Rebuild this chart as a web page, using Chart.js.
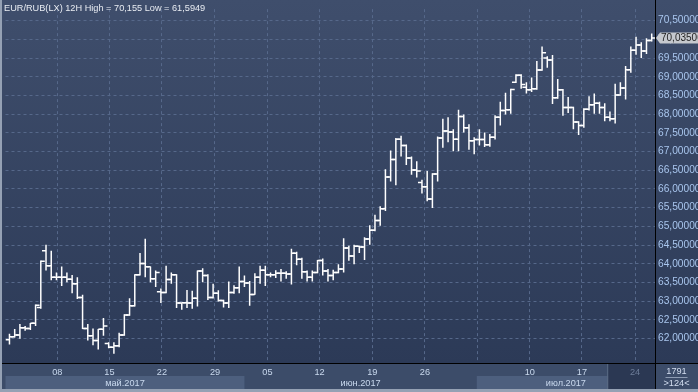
<!DOCTYPE html>
<html>
<head>
<meta charset="utf-8">
<title>EUR/RUB 12H</title>
<script src="https://cdn.jsdelivr.net/npm/chart.js@4.4.1/dist/chart.umd.min.js"></script>
<style>
  html, body { margin: 0; padding: 0; background: #2c3a57; }
  #eurRubChart { display: block; }
</style>
</head>
<body>
<canvas id="eurRubChart" width="698" height="392"></canvas>
<script>
// 12H bars, EUR/RUB, early May .. late July 2017
var opens = [61.97, 62.05, 62.10, 62.29, 62.27, 62.41, 62.83, 64.35, 63.95, 63.64,
    63.64, 63.64, 63.59, 63.47, 63.10, 62.27, 62.08, 61.95, 62.25, 61.87,
    61.77, 61.81, 62.10, 62.63, 62.88, 63.71, 64.01, 63.92, 63.60, 63.25,
    63.23, 63.58, 63.71, 62.95, 62.96, 62.95, 63.08, 63.81, 63.69, 63.10,
    63.21, 63.02, 62.95, 63.23, 63.36, 63.53, 63.49, 63.18, 63.64, 63.83,
    63.71, 63.71, 63.75, 63.75, 63.73, 64.28, 64.12, 63.79, 63.64, 63.77,
    64.09, 63.81, 63.69, 63.77, 63.86, 64.42, 64.21, 64.47, 64.45, 64.66,
    64.90, 65.16, 65.47, 66.32, 66.79, 67.33, 67.16, 66.83, 66.51, 66.17,
    66.06, 65.73, 66.40, 67.36, 67.55, 67.52, 67.33, 67.94, 67.64, 67.29,
    67.32, 67.32, 67.18, 67.38, 67.92, 68.10, 68.12, 68.85, 69.04, 68.72,
    68.65, 68.68, 69.18, 69.50, 69.45, 68.44, 68.65, 68.18, 68.18, 67.79,
    67.70, 68.13, 68.25, 68.29, 68.18, 67.92, 67.88, 68.51, 68.70, 69.19,
    69.71, 69.85, 69.69, 69.97];
var highs = [62.13, 62.26, 62.39, 62.34, 62.42, 62.91, 64.09, 64.51, 64.35, 63.77,
    63.93, 63.77, 63.70, 63.64, 63.17, 62.39, 62.27, 62.26, 62.55, 61.90,
    61.90, 62.16, 62.65, 63.08, 63.72, 64.29, 64.67, 63.93, 63.82, 63.34,
    63.95, 63.77, 63.72, 62.96, 63.30, 63.28, 63.82, 63.88, 63.72, 63.47,
    63.29, 63.04, 63.53, 63.43, 63.93, 63.69, 63.54, 63.75, 63.95, 63.95,
    63.77, 63.83, 63.86, 63.80, 64.40, 64.32, 64.16, 63.82, 63.82, 64.10,
    64.14, 63.86, 63.84, 63.99, 64.68, 64.48, 64.51, 64.48, 64.71, 65.03,
    65.31, 65.54, 66.53, 67.03, 67.36, 67.42, 67.19, 66.87, 66.74, 66.25,
    66.48, 66.42, 67.40, 67.88, 67.92, 67.60, 68.12, 67.99, 67.73, 67.38,
    67.60, 67.51, 67.47, 67.97, 68.33, 68.57, 68.68, 69.07, 69.07, 68.85,
    68.98, 69.42, 69.81, 69.55, 69.58, 68.94, 68.67, 68.46, 68.20, 67.81,
    68.16, 68.48, 68.55, 68.33, 68.29, 68.07, 68.81, 68.85, 69.29, 69.81,
    70.07, 69.92, 70.03, 70.155];
var lows = [61.84, 62.03, 62.00, 62.21, 62.23, 62.34, 62.80, 63.82, 63.56, 63.56,
    63.41, 63.51, 63.21, 63.06, 62.26, 61.95, 61.82, 61.71, 62.08, 61.74,
    61.5949, 61.77, 62.08, 62.61, 62.86, 63.69, 63.64, 63.51, 63.38, 62.95,
    63.21, 63.47, 62.82, 62.77, 62.82, 62.80, 62.86, 63.51, 63.03, 63.07,
    62.99, 62.83, 62.82, 63.20, 63.21, 63.38, 62.88, 63.17, 63.47, 63.41,
    63.64, 63.62, 63.53, 63.60, 63.45, 63.96, 63.60, 63.53, 63.53, 63.75,
    63.69, 63.53, 63.56, 63.75, 63.77, 64.08, 63.99, 64.29, 64.10, 64.51,
    64.87, 65.02, 65.41, 66.20, 66.10, 66.87, 66.64, 66.38, 66.31, 65.88,
    65.67, 65.49, 66.20, 67.10, 67.25, 67.01, 67.01, 67.51, 67.05, 66.93,
    67.16, 67.12, 67.13, 67.32, 67.70, 67.99, 68.01, 68.83, 68.68, 68.55,
    68.59, 68.65, 69.16, 69.24, 68.27, 68.41, 67.96, 68.03, 67.60, 67.44,
    67.64, 68.10, 68.01, 68.01, 67.81, 67.81, 67.75, 68.49, 68.39, 69.11,
    69.59, 69.50, 69.61, 69.94];
var closes = [62.05, 62.10, 62.29, 62.27, 62.41, 62.89, 64.07, 63.95, 63.64, 63.64,
    63.64, 63.59, 63.47, 63.10, 62.27, 62.08, 61.95, 62.25, 62.34, 61.77,
    61.81, 62.10, 62.63, 62.88, 63.71, 64.01, 63.92, 63.60, 63.77, 63.23,
    63.58, 63.71, 62.95, 62.96, 62.95, 63.08, 63.81, 63.69, 63.10, 63.21,
    63.02, 62.95, 63.23, 63.36, 63.53, 63.49, 63.18, 63.64, 63.83, 63.71,
    63.71, 63.75, 63.75, 63.73, 64.28, 64.12, 63.79, 63.64, 63.77, 64.09,
    63.81, 63.69, 63.77, 63.86, 64.42, 64.21, 64.47, 64.45, 64.66, 64.90,
    65.16, 65.47, 66.32, 66.79, 67.33, 67.16, 66.83, 66.51, 66.48, 66.06,
    65.73, 66.40, 67.36, 67.55, 67.52, 67.33, 67.94, 67.64, 67.29, 67.32,
    67.32, 67.18, 67.38, 67.92, 68.10, 68.12, 68.66, 69.04, 68.79, 68.65,
    68.68, 69.18, 69.64, 69.45, 68.44, 68.65, 68.18, 68.18, 67.79, 67.70,
    68.13, 68.25, 68.29, 68.18, 67.92, 67.88, 68.51, 68.70, 69.19, 69.71,
    69.85, 69.69, 69.97, 70.035];

// week starts (in bar units) and their day labels; 03 is not printed on the original
var weekTickPos = [9.16, 19.14, 29.19, 39.36, 49.41, 59.39, 69.50, 79.56, 89.61, 99.65, 109.64, 119.82];
var weekTickLabels = ['08', '15', '22', '29', '05', '12', '19', '26', '', '10', '17', '24'];
// months shown in the lower band, and the bar where each one begins
var monthLabels = ['май.2017', 'июн.2017', 'июл.2017'];
var monthStarts = [-0.76, 45.0, 89.5];
var priceTicks = [62, 62.5, 63, 63.5, 64, 64.5, 65, 65.5, 66, 66.5, 67, 67.5, 68, 68.5, 69, 69.5, 70, 70.5];
var symbolName = 'EUR/RUB(LX) 12H';
var totalBars = 1791;
var liveFrom = 114.66; // start of the darker "current" block on the time axis

var FONT = "'Liberation Sans', Arial, sans-serif";
var tickOffset = 0.38; // open/close ticks sit this far left/right of the bar

function comma(v) {
    return String(v).replace('.', ',');
}

var barIndex = highs.map(function(h, i) { return i; });

// Frame, axis bands and labels that Chart.js has no option for
var terminalFrame = {
    id: 'terminalFrame',
    beforeDraw: function(chart) {
        var ctx = chart.ctx, a = chart.chartArea, xs = chart.scales.x;
        var W = chart.width, H = chart.height;
        ctx.save();
        var g = ctx.createLinearGradient(0, 0, 0, a.bottom);
        g.addColorStop(0, '#3f4e6c');
        g.addColorStop(1, '#2c3a57');
        ctx.fillStyle = g;
        ctx.fillRect(0, 0, W, a.bottom);

        // time axis, two rows
        ctx.fillStyle = '#3c4c69';
        ctx.fillRect(0, a.bottom, W, H - a.bottom);
        for (var k = 0; k < monthStarts.length; k++) {
            if (k % 2 !== 0) continue;
            var l = Math.max(a.left, xs.getPixelForValue(monthStarts[k]));
            var r = k < monthStarts.length - 1 ? xs.getPixelForValue(monthStarts[k + 1]) : a.right;
            ctx.fillStyle = '#4d5f7e';
            ctx.fillRect(l, a.bottom + 13, r - l, 13);
        }
        var lx = xs.getPixelForValue(liveFrom);
        ctx.fillStyle = '#2b3853';
        ctx.fillRect(lx, a.bottom, a.right - lx, 26);
        ctx.fillStyle = '#5a6a84';
        ctx.fillRect(lx - 1, a.bottom, 1, 26);

        // light outer border
        ctx.fillStyle = '#95a1b4';
        ctx.fillRect(0, H - 3, W, 3);
        ctx.fillRect(0, 0, 2, H);
        ctx.restore();
    },
    afterDraw: function(chart) {
        var ctx = chart.ctx, a = chart.chartArea, xs = chart.scales.x, ys = chart.scales.y;
        var W = chart.width, H = chart.height;
        ctx.save();

        // black separators
        ctx.strokeStyle = '#000000';
        ctx.lineWidth = 1;
        ctx.beginPath();
        ctx.moveTo(Math.round(a.right) + 0.5, 0);
        ctx.lineTo(Math.round(a.right) + 0.5, H - 3);
        ctx.moveTo(2, Math.round(a.bottom) + 0.5);
        ctx.lineTo(W, Math.round(a.bottom) + 0.5);
        ctx.stroke();

        // month labels
        ctx.font = '9.2px ' + FONT;
        ctx.fillStyle = '#c9d9ee';
        ctx.textAlign = 'center';
        ctx.textBaseline = 'middle';
        for (var k = 0; k < monthLabels.length; k++) {
            var l = Math.max(a.left, xs.getPixelForValue(monthStarts[k]));
            var r = k < monthStarts.length - 1 ? xs.getPixelForValue(monthStarts[k + 1]) : a.right;
            ctx.fillText(monthLabels[k], (l + r) / 2, a.bottom + 20);
        }

        // corner box: total bars / bars on screen
        var cx = (a.right + W) / 2;
        ctx.fillStyle = '#d3def0';
        ctx.fillText(String(totalBars), cx, a.bottom + 8);
        ctx.fillText('>' + highs.length + '<', cx, a.bottom + 20);
        ctx.fillStyle = '#8e9cb3';
        ctx.fillRect(cx - 11, a.bottom + 14, 22, 1);

        // last price tag on the price axis
        var last = closes[closes.length - 1];
        var py = ys.getPixelForValue(last);
        ctx.fillStyle = '#c6c9ce';
        ctx.beginPath();
        ctx.moveTo(a.right + 1, py);
        ctx.lineTo(a.right + 5, py - 5.5);
        ctx.lineTo(W, py - 5.5);
        ctx.lineTo(W, py + 5.5);
        ctx.lineTo(a.right + 5, py + 5.5);
        ctx.closePath();
        ctx.fill();
        ctx.fillStyle = '#1e1e1e';
        ctx.textAlign = 'left';
        ctx.font = '10px ' + FONT;
        ctx.fillText(comma(last.toFixed(5)), a.right + 6, py + 0.5);

        // header
        ctx.font = '9.2px ' + FONT;
        ctx.fillStyle = '#e8ecf2';
        ctx.textBaseline = 'alphabetic';
        ctx.fillText(symbolName + ' High = ' + comma(Math.max.apply(null, highs)) +
            ' Low = ' + comma(Math.min.apply(null, lows)), 4, 11);
        ctx.restore();
    }
};

var eurRubChart = new Chart(document.getElementById('eurRubChart'), {
    type: 'bar',
    data: {
        datasets: [{
            // high-low range
            label: 'range',
            data: barIndex.map(function(i) { return { x: i, y: [lows[i], highs[i]] }; }),
            backgroundColor: '#ffffff',
            barThickness: 1.5,
            inflateAmount: 0,
            order: 2
        },
        {
            // open tick, to the left
            type: 'scatter',
            label: 'open',
            data: barIndex.map(function(i) { return { x: i - tickOffset, y: opens[i] }; }),
            pointStyle: 'line',
            pointRadius: 2,
            pointBorderColor: '#ffffff',
            pointBorderWidth: 1.5,
            order: 1
        },
        {
            // close tick, to the right
            type: 'scatter',
            label: 'close',
            data: barIndex.map(function(i) { return { x: i + tickOffset, y: closes[i] }; }),
            pointStyle: 'line',
            pointRadius: 2,
            pointBorderColor: '#ffffff',
            pointBorderWidth: 1.5,
            order: 1
        }]
    },
    options: {
        responsive: false,
        animation: false,
        events: [],
        layout: { padding: { left: 3, top: 0, right: 0, bottom: 0 } },
        plugins: {
            legend: { display: false },
            tooltip: { enabled: false }
        },
        scales: {
            x: {
                type: 'linear',
                min: -0.76,
                max: 123.63,
                offset: false,
                afterBuildTicks: function(scale) {
                    scale.ticks = weekTickPos.map(function(v) { return { value: v }; });
                },
                afterFit: function(scale) { scale.height = 29; },
                grid: { color: '#56688a', offset: false, drawTicks: false },
                border: { display: false, dash: [3, 3] },
                ticks: {
                    autoSkip: false,
                    maxRotation: 0,
                    padding: 4,
                    font: { family: FONT, size: 9.2 },
                    color: function(c) {
                        return c.tick && c.tick.value > liveFrom ? '#6d7d99' : '#c9d9ee';
                    },
                    callback: function(value, index) { return weekTickLabels[index]; }
                }
            },
            y: {
                position: 'right',
                min: 61.3485,
                max: 70.8078,
                afterBuildTicks: function(scale) {
                    scale.ticks = priceTicks.map(function(v) { return { value: v }; });
                },
                afterFit: function(scale) { scale.width = 43; },
                grid: { color: '#56688a', drawTicks: false },
                border: { display: false, dash: [3, 3] },
                ticks: {
                    autoSkip: false,
                    padding: 3,
                    font: { family: FONT, size: 10.2 },
                    color: '#a9c6ee',
                    callback: function(value) { return comma(value.toFixed(6)); }
                }
            }
        }
    },
    plugins: [terminalFrame]
});
</script>
</body>
</html>
